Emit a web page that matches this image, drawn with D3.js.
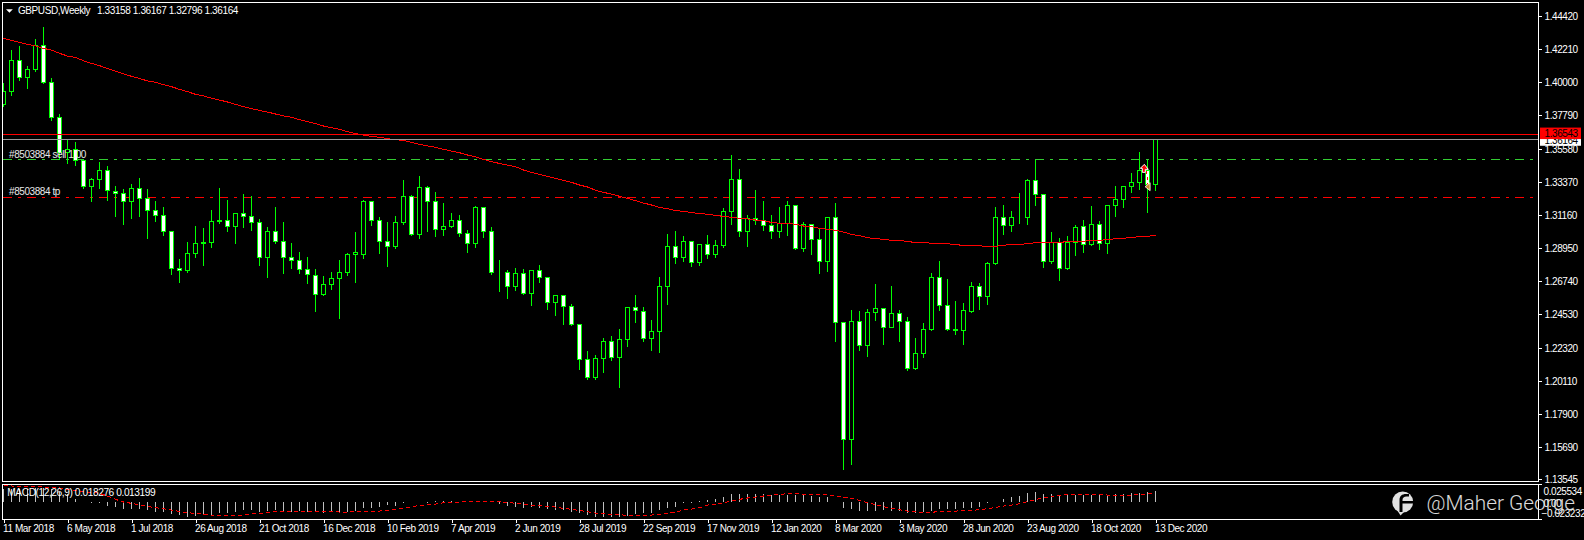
<!DOCTYPE html>
<html><head><meta charset="utf-8">
<script src="https://cdnjs.cloudflare.com/ajax/libs/d3/7.8.5/d3.min.js"></script>
<style>
html,body{margin:0;padding:0;background:#000;overflow:hidden}
svg{display:block}
text{font-family:"Liberation Sans",Arial,sans-serif;font-size:10px;letter-spacing:-0.42px;fill:#fff;text-rendering:optimizeSpeed}
</style></head><body>
<svg id="c" width="1584" height="540"></svg>
<script>
const symbolTitle="GBPUSD,Weekly";
const quoteTitle="1.33158 1.36167 1.32796 1.36164";
const macdTitle="MACD(12,26,9) 0.018276 0.013199";
const dateLabels=["11 Mar 2018","6 May 2018","1 Jul 2018","26 Aug 2018","21 Oct 2018","16 Dec 2018","10 Feb 2019","7 Apr 2019","2 Jun 2019","28 Jul 2019","22 Sep 2019","17 Nov 2019","12 Jan 2020","8 Mar 2020","3 May 2020","28 Jun 2020","23 Aug 2020","18 Oct 2020","13 Dec 2020"];
const priceTicks=[1.4442,1.4221,1.4,1.3779,1.3558,1.3337,1.3116,1.2895,1.2674,1.2453,1.2232,1.2011,1.179,1.1569,1.13545];
const macdTicks=[0.025534,0,-0.023232];
const askPrice=1.36543, bidPrice=1.36164, slPrice=1.3486, tpPrice=1.3233;
const opens=[1.3850,1.3939,1.4145,1.4032,1.4083,1.4245,1.3999,1.3766,1.3533,1.3553,1.3479,1.3306,1.3353,1.3413,1.3273,1.3259,1.3206,1.3293,1.3226,1.3146,1.3113,1.3006,1.2760,1.2747,1.2860,1.2926,1.2933,1.3073,1.3080,1.3040,1.3126,1.3106,1.3066,1.2833,1.3006,1.2940,1.2833,1.2813,1.2753,1.2713,1.2585,1.2653,1.2693,1.2733,1.2853,1.2853,1.3206,1.3080,1.2940,1.2906,
1.3066,1.3240,1.2984,1.3300,1.3206,1.3020,1.3040,1.3080,1.2993,1.2924,1.3166,1.3006,1.2733,1.2731,1.2640,1.2727,1.2594,1.2747,1.2700,1.2534,1.2580,1.2507,1.2387,1.2154,1.2034,1.2161,1.2274,1.2165,1.2287,1.2500,1.2474,1.2294,1.2340,1.2640,1.2907,1.2833,1.2940,1.2800,1.2918,1.2853,1.2911,1.3140,1.3353,1.3006,1.3093,1.3080,1.3046,1.3006,1.3060,1.3180,
1.2893,1.3053,1.2953,1.2807,1.3100,1.2400,1.1621,1.2407,1.2247,1.2467,1.2494,1.2367,1.2460,1.2407,1.2094,1.2194,1.2354,1.2700,1.2514,1.2354,1.2347,1.2474,1.2640,1.2574,1.2793,1.3100,1.3046,1.3097,1.3100,1.3346,1.3253,1.2807,1.2933,1.2760,1.2933,1.3040,1.2920,1.3053,1.2927,1.3180,1.3220,1.3306,1.3333,1.3413,1.33158];
const highs=[1.3997,1.4218,1.4241,1.4108,1.4294,1.4374,1.4032,1.3792,1.3615,1.3606,1.3486,1.3366,1.3473,1.3446,1.3313,1.3293,1.3322,1.3366,1.3293,1.3215,1.3175,1.3006,1.2827,1.2940,1.3046,1.3033,1.3149,1.3300,1.3220,1.3135,1.3259,1.3242,1.3093,1.3040,1.3175,1.3073,1.2929,1.2869,1.2840,1.2760,1.2713,1.2742,1.2820,1.2867,1.3006,1.3220,1.3213,1.3106,1.3069,1.3115,
1.3353,1.3253,1.3379,1.3313,1.3275,1.3200,1.3133,1.3122,1.3022,1.3180,1.3173,1.3040,1.2820,1.2753,1.2767,1.2760,1.2753,1.2787,1.2707,1.2580,1.2580,1.2529,1.2387,1.2216,1.2183,1.2300,1.2316,1.2360,1.2507,1.2589,1.2507,1.2420,1.2707,1.2995,1.3013,1.2980,1.2947,1.2927,1.2986,1.2953,1.3166,1.3515,1.3428,1.3120,1.3286,1.3215,1.3120,1.3173,1.3215,1.3186,
1.3073,1.3060,1.3026,1.3106,1.3200,1.2407,1.2487,1.2480,1.2494,1.2656,1.2500,1.2649,1.2487,1.2440,1.2300,1.2400,1.2733,1.2813,1.2693,1.2547,1.2534,1.2673,1.2667,1.2807,1.3173,1.3186,1.3146,1.3266,1.3359,1.3486,1.3260,1.3006,1.2966,1.2980,1.3053,1.3086,1.3180,1.3080,1.3186,1.3313,1.3313,1.3399,1.3539,1.3486,1.36167];
const lows=[1.3837,1.3908,1.4010,1.3961,1.4074,1.3992,1.3743,1.3486,1.3457,1.3448,1.3291,1.3204,1.3295,1.3211,1.3104,1.3051,1.3095,1.3104,1.2958,1.3069,1.2978,1.2722,1.2665,1.2731,1.2829,1.2782,1.2898,1.3058,1.3004,1.2924,1.3031,1.3011,1.2776,1.2698,1.2926,1.2725,1.2762,1.2727,1.2658,1.2476,1.2578,1.2618,1.2423,1.2713,1.2669,1.2827,1.3044,1.2858,1.2771,1.2893,
1.3049,1.2978,1.2958,1.3004,1.2975,1.2982,1.3029,1.2975,1.2864,1.2902,1.2964,1.2718,1.2605,1.2558,1.2611,1.2585,1.2511,1.2665,1.2485,1.2445,1.2385,1.2378,1.2085,1.2023,1.2018,1.2065,1.2145,1.1965,1.2238,1.2398,1.2272,1.2212,1.2198,1.2518,1.2791,1.2804,1.2771,1.2782,1.2824,1.2831,1.2898,1.3049,1.2975,1.2904,1.3049,1.3011,1.2958,1.2964,1.2978,1.2884,
1.2871,1.2849,1.2724,1.2738,1.2272,1.1419,1.1452,1.2212,1.2172,1.2411,1.2252,1.2363,1.2272,1.2078,1.2085,1.2165,1.2345,1.2478,1.2345,1.2318,1.2252,1.2465,1.2485,1.2518,1.2784,1.2984,1.3004,1.3057,1.3051,1.3177,1.2764,1.2791,1.2678,1.2751,1.2844,1.2864,1.2911,1.2884,1.2858,1.3104,1.3164,1.3264,1.3286,1.3133,1.32796];
const closes=[1.3939,1.4145,1.4032,1.4085,1.4243,1.3999,1.3766,1.3533,1.3553,1.3479,1.3306,1.3353,1.3413,1.3280,1.3259,1.3206,1.3293,1.3226,1.3146,1.3113,1.3006,1.2760,1.2747,1.2860,1.2926,1.2933,1.3073,1.3082,1.3040,1.3126,1.3106,1.3066,1.2833,1.3006,1.2940,1.2833,1.2813,1.2753,1.2718,1.2587,1.2653,1.2693,1.2733,1.2853,1.2867,1.3206,1.3080,1.2940,1.2906,1.3066,
1.3240,1.2984,1.3300,1.3206,1.3020,1.3040,1.3080,1.2991,1.2927,1.3166,1.3006,1.2733,1.2731,1.2640,1.2727,1.2594,1.2747,1.2700,1.2534,1.2580,1.2507,1.2385,1.2152,1.2034,1.2161,1.2274,1.2167,1.2287,1.2500,1.2480,1.2294,1.2340,1.2640,1.2907,1.2833,1.2940,1.2800,1.2920,1.2853,1.2911,1.3140,1.3353,1.3006,1.3093,1.3082,1.3046,1.3006,1.3060,1.3180,1.2893,
1.3053,1.2953,1.2807,1.3100,1.2400,1.1621,1.2407,1.2247,1.2467,1.2494,1.2367,1.2460,1.2407,1.2094,1.2194,1.2354,1.2700,1.2514,1.2354,1.2345,1.2480,1.2640,1.2574,1.2793,1.3100,1.3046,1.3100,1.3100,1.3346,1.3253,1.2807,1.2933,1.2760,1.2933,1.3033,1.2920,1.3053,1.2927,1.3180,1.3220,1.3306,1.3333,1.3413,1.3319,1.36164];
const movingAverage=[1.4292,1.4279,1.4265,1.4252,1.4241,1.4225,1.4214,1.4192,1.4174,1.4165,1.4143,1.4125,1.4110,1.4090,1.4074,1.4056,1.4039,1.4025,1.4008,1.3999,1.3983,1.3970,1.3952,1.3937,1.3919,1.3908,1.3894,1.3881,1.3868,1.3852,1.3837,1.3823,1.3812,1.3801,1.3788,1.3775,1.3766,1.3750,1.3737,1.3724,1.3708,1.3697,1.3686,1.3670,1.3657,1.3648,1.3639,1.3633,1.3624,1.3617,
1.3612,1.3599,1.3586,1.3575,1.3566,1.3553,1.3541,1.3530,1.3515,1.3502,1.3486,1.3470,1.3459,1.3448,1.3437,1.3415,1.3399,1.3386,1.3373,1.3359,1.3346,1.3333,1.3315,1.3302,1.3280,1.3266,1.3255,1.3240,1.3226,1.3211,1.3195,1.3182,1.3166,1.3157,1.3144,1.3140,1.3131,1.3126,1.3120,1.3113,1.3106,1.3100,1.3093,1.3089,1.3082,1.3077,1.3066,1.3060,1.3060,1.3053,
1.3042,1.3038,1.3026,1.3020,1.3013,1.3002,1.2986,1.2978,1.2964,1.2958,1.2953,1.2947,1.2947,1.2938,1.2933,1.2933,1.2927,1.2927,1.2924,1.2918,1.2913,1.2913,1.2911,1.2904,1.2907,1.2913,1.2920,1.2920,1.2924,1.2931,1.2931,1.2931,1.2933,1.2938,1.2940,1.2940,1.2947,1.2947,1.2951,1.2958,1.2960,1.2966,1.2971,1.2973,1.2980];
const macdMain=[.0220,.0212,.0212,.0212,.0228,.0230,.0212,.0160,.0129,.0047,.0008,-.0008,-.0008,-.0063,-.0074,-.0107,-.0107,-.0118,-.0135,-.0162,-.0162,-.0201,-.0217,-.0239,-.0228,-.0217,-.0217,-.0184,-.0173,-.0162,-.0135,-.0135,-.0162,-.0146,-.0135,-.0146,-.0162,-.0146,-.0162,-.0162,-.0173,-.0162,-.0162,-.0162,-.0146,-.0091,-.0091,-.0074,-.0052,-.0063,
-.0008,-.0003,.0003,-.0019,.0019,.0014,.0019,.0008,.0003,.0003,.0014,.0014,-.0030,-.0063,-.0080,-.0091,-.0085,-.0096,-.0107,-.0129,-.0135,-.0157,-.0184,-.0217,-.0239,-.0239,-.0239,-.0239,-.0228,-.0190,-.0173,-.0173,-.0135,-.0091,-.0074,-.0008,-.0008,.0025,.0036,.0047,.0091,.0129,.0129,.0129,.0129,.0129,.0118,.0118,.0118,.0118,
.0113,.0102,.0091,.0091,.0003,-.0102,-.0118,-.0146,-.0146,-.0146,-.0135,-.0146,-.0140,-.0173,-.0173,-.0162,-.0151,-.0118,-.0118,-.0107,-.0102,-.0102,-.0080,-.0008,.0003,.0058,.0085,.0102,.0146,.0168,.0135,.0135,.0124,.0113,.0113,.0113,.0113,.0113,.0124,.0129,.0135,.0146,.0157,.0168,.018276];
const macdSignal=[.0267,.0267,.0261,.0256,.0256,.0250,.0250,.0234,.0212,.0190,.0173,.0162,.0146,.0102,.0047,.0003,-.0019,-.0041,-.0069,-.0091,-.0107,-.0129,-.0151,-.0173,-.0184,-.0195,-.0212,-.0217,-.0217,-.0217,-.0212,-.0195,-.0184,-.0173,-.0151,-.0146,-.0146,-.0151,-.0151,-.0151,-.0157,-.0157,-.0162,-.0162,-.0157,-.0157,-.0146,-.0146,-.0135,-.0113,
-.0096,-.0080,-.0052,-.0041,-.0030,-.0008,-.0003,.0003,.0014,.0014,.0014,.0008,.0008,-.0003,-.0019,-.0036,-.0047,-.0052,-.0069,-.0080,-.0102,-.0118,-.0135,-.0157,-.0179,-.0190,-.0201,-.0206,-.0217,-.0217,-.0217,-.0212,-.0201,-.0184,-.0162,-.0129,-.0113,-.0091,-.0047,-.0036,-.0008,.0019,.0047,.0069,.0085,.0102,.0113,.0129,.0140,.0140,
.0129,.0129,.0129,.0118,.0102,.0085,.0063,.0030,-.0008,-.0041,-.0074,-.0102,-.0124,-.0146,-.0157,-.0168,-.0168,-.0151,-.0146,-.0146,-.0140,-.0135,-.0124,-.0107,-.0085,-.0063,-.0047,-.0025,.0008,.0041,.0074,.0096,.0113,.0124,.0124,.0129,.0129,.0129,.0118,.0113,.0113,.0118,.0124,.0140,.013199];

const svg=d3.select("#c");
const weeks=d3.range(opens.length);
const x=d3.scaleLinear().domain([0,144]).range([3.5,1155.5]);
const y=d3.scaleLinear().domain([1.4442,1.13545]).range([15.8,479.4]);
const m=d3.scaleLinear().domain([0.025534,-0.023232]).range([486.7,516.3]);
const snap=v=>Math.round(v-.5)+.5;

svg.append("rect").attr("width",1584).attr("height",540).attr("fill","#000");
const defs=svg.append("defs");
defs.append("clipPath").attr("id","mainClip").append("rect").attr("x",3).attr("y",3).attr("width",1535).attr("height",477);
defs.append("clipPath").attr("id","macdClip").append("rect").attr("x",3).attr("y",484).attr("width",1535).attr("height",35);

const main=svg.append("g").attr("clip-path","url(#mainClip)").attr("shape-rendering","crispEdges");
const pattern="9,6,3,6";
[[slPrice,"#32cd32"],[tpPrice,"#f00"]].forEach(([p,c])=>{
  main.append("line").attr("x1",3).attr("x2",1534).attr("y1",snap(y(p))).attr("y2",snap(y(p)))
    .attr("stroke",c).attr("stroke-dasharray",pattern);
});
const candle=main.selectAll("g.k").data(weeks).join("g").attr("class","k");
candle.append("line")
  .attr("x1",i=>x(i)).attr("x2",i=>x(i))
  .attr("y1",i=>snap(y(highs[i]))).attr("y2",i=>snap(y(lows[i])))
  .attr("stroke","#0f0");
candle.append("rect")
  .attr("x",i=>x(i)-2).attr("width",4)
  .attr("y",i=>snap(y(Math.max(opens[i],closes[i]))))
  .attr("height",i=>snap(y(Math.min(opens[i],closes[i])))-snap(y(Math.max(opens[i],closes[i]))))
  .attr("fill",i=>closes[i]>=opens[i]?"#000":"#fff")
  .attr("stroke","#0f0");
main.append("path").attr("d",d3.line().x(i=>x(i)).y(i=>y(movingAverage[i]))(weeks))
  .attr("fill","none").attr("stroke","#f00").attr("stroke-width",1);
main.append("line").attr("x1",3).attr("x2",1538).attr("y1",snap(y(bidPrice))).attr("y2",snap(y(bidPrice))).attr("stroke","#9a9a9a");
main.append("line").attr("x1",3).attr("x2",1538).attr("y1",snap(y(askPrice))).attr("y2",snap(y(askPrice))).attr("stroke","#f00");

// trade markers on the last weeks
const ax=x(142.6), ay=y(1.3426), ox=x(143.2), oy=y(1.3304);
main.append("line").attr("x1",ax+2).attr("y1",ay+3).attr("x2",ox-1).attr("y2",oy-1)
  .attr("stroke","#f00").attr("stroke-dasharray","3,3");
svg.append("path").attr("d",`M${ax-4},${ay}L${ax},${ay-4}L${ax+4},${ay+1}L${ax+1},${ay+1}L${ax+1},${ay+4}L${ax-2},${ay+4}L${ax-2},${ay}Z`)
  .attr("fill","#f00").attr("stroke","#fff").attr("stroke-width",1);
svg.append("path").attr("d",`M${ox-4},${oy}L${ox+1},${oy-4}L${ox+1},${oy+4}Z`)
  .attr("fill","#c98a2b").attr("stroke","#fff").attr("stroke-width",.8);

svg.append("text").attr("x",9).attr("y",158).text("#8503884 sell 1.00").style("fill","#e8e8e8");
svg.append("text").attr("x",9).attr("y",195).text("#8503884 tp").style("fill","#e8e8e8");

// MACD panel
const sub=svg.append("g").attr("clip-path","url(#macdClip)").attr("shape-rendering","crispEdges");
sub.selectAll("line.h").data(weeks).join("line").attr("class","h")
  .attr("x1",i=>x(i)).attr("x2",i=>x(i))
  .attr("y1",m(0)).attr("y2",i=>m(macdMain[i])).attr("stroke","#c0c0c0");
sub.append("path").attr("d",d3.line().x(i=>x(i)).y(i=>m(macdSignal[i]))(weeks))
  .attr("fill","none").attr("stroke","#f00").attr("stroke-dasharray","4,3");

// frames
const frame=svg.append("g").attr("shape-rendering","crispEdges").attr("stroke","#fff").attr("fill","none");
frame.append("path").attr("d","M2.5,481.5V2.5H1538.5V481.5Z");
frame.append("path").attr("d","M2.5,484.5H1538.5V519.5H2.5Z");
frame.append("path").attr("d","M1538.5,484.5h3M1538.5,519.5h3");

// axes
const yAxis=d3.axisRight(y).tickValues(priceTicks).tickFormat(d3.format(".5f")).tickSize(3).tickPadding(3);
const gy=svg.append("g").attr("transform","translate(1538.5,0)").call(yAxis);
const mAxis=d3.axisRight(m).tickValues(macdTicks).tickFormat(d=>d===0?"0.00":d3.format(".6f")(d)).tickSize(3).tickPadding(3);
const gm=svg.append("g").attr("transform","translate(1538.5,0)").call(mAxis);
gm.selectAll(".tick line").remove();
gm.selectAll(".tick text").attr("dy",d=>d>0?"7.6":d<0?"0":"4").attr("x",d=>d<0?3:5);
const xAxis=d3.axisBottom(x).tickValues(dateLabels.map((d,k)=>k*8)).tickFormat((d,k)=>dateLabels[k]).tickSize(3).tickPadding(2);
const gx=svg.append("g").attr("transform","translate(0,519.5)").call(xAxis);
gx.selectAll(".tick text").attr("text-anchor","start").attr("x",-1).attr("dy","0.75em");
[gy,gm,gx].forEach(g=>{
  g.select(".domain").remove();
  g.selectAll("line").attr("stroke","#fff").attr("shape-rendering","crispEdges");
  g.selectAll("text").attr("font-family",null).attr("font-size",null).attr("fill",null);
  g.attr("font-family",null).attr("font-size",null);
});
gy.selectAll(".tick text").attr("dy","0.35em");

// current price tags
svg.append("rect").attr("x",1540).attr("y",y(bidPrice)-6).attr("width",41).attr("height",12).attr("fill","#fff");
svg.append("text").attr("x",1544.5).attr("y",y(bidPrice)+4).text(d3.format(".5f")(bidPrice)).style("fill","#000");
svg.append("rect").attr("x",1540).attr("y",y(askPrice)-6.5).attr("width",41).attr("height",11.5).attr("fill","#f00");
svg.append("text").attr("x",1544.5).attr("y",y(askPrice)+3).text(d3.format(".5f")(askPrice)).style("fill","#000");

// titles
svg.append("path").attr("d","M6,9.3H12.8L9.4,12.8Z").attr("fill","#fff");
svg.append("text").attr("x",18).attr("y",14.3).text(symbolTitle);
svg.append("text").attr("x",97).attr("y",14.3).text(quoteTitle).attr("textLength",141).attr("lengthAdjust","spacingAndGlyphs");
svg.append("text").attr("x",7.3).attr("y",496.2).text(macdTitle).attr("textLength",148).attr("lengthAdjust","spacingAndGlyphs");

// watermark
const mark=svg.append("g").attr("opacity",.95);
mark.append("circle").attr("cx",1402.7).attr("cy",502).attr("r",10.5).attr("fill","#eee");
mark.append("path").attr("d","M1397,510L1400.5,515.5L1405,511Z").attr("fill","#eee");
mark.append("path").attr("d","M1399.5,512V500C1399.5,496 1402,494 1406,494H1409V496.5H1406.5C1404,496.5 1402.5,498 1402.5,500V501H1414V503.5H1402.5V512Z").attr("fill","#000");
mark.append("text").attr("x",1426.5).attr("y",510).text("@Maher George")
  .attr("textLength",148.5).attr("lengthAdjust","spacingAndGlyphs")
  .style("font-family","Roboto,sans-serif").style("font-weight",300).style("font-size","21px").style("letter-spacing","0").style("fill","#e6e6e6");
</script></body></html>
